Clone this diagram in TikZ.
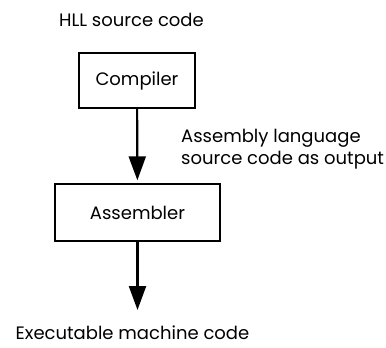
\documentclass[tikz,border=0pt]{standalone}
\usepackage{fontspec}
\setmainfont{Poppins}
\usetikzlibrary{positioning,arrows.meta}

\begin{document}
\begin{tikzpicture}[x=1bp, y=-1bp, tool box/.style={draw, line width=1.4bp, rectangle, inner sep=0pt}, flow/.style={-{Triangle[length=24bp, width=17bp]}, line width=2.2bp}, font=\fontsize{18bp}{22bp}\selectfont]
    \useasboundingbox (0,0) rectangle (386,348);

    \node[inner sep=0pt] (src) at (131.5,20) {HLL source code};
    \node[tool box, minimum width=116bp, minimum height=55bp] (comp) at (137,80.5) {Compiler};
    \node[tool box, minimum width=165bp, minimum height=57bp] (asm) at (137.5,212.5) {Assembler};
    \node[align=left, anchor=west, inner sep=0pt] (out) at (181,149) {Assembly language\\source code as output};
    \coordinate (end) at (137.5,310);
    \node[inner sep=0pt] (exe) at (132.5,333) {Executable machine code};

    \draw[flow, shorten >=3bp] (comp) -- (asm);
    \draw[flow] (asm) -- (end);
\end{tikzpicture}
\end{document}
